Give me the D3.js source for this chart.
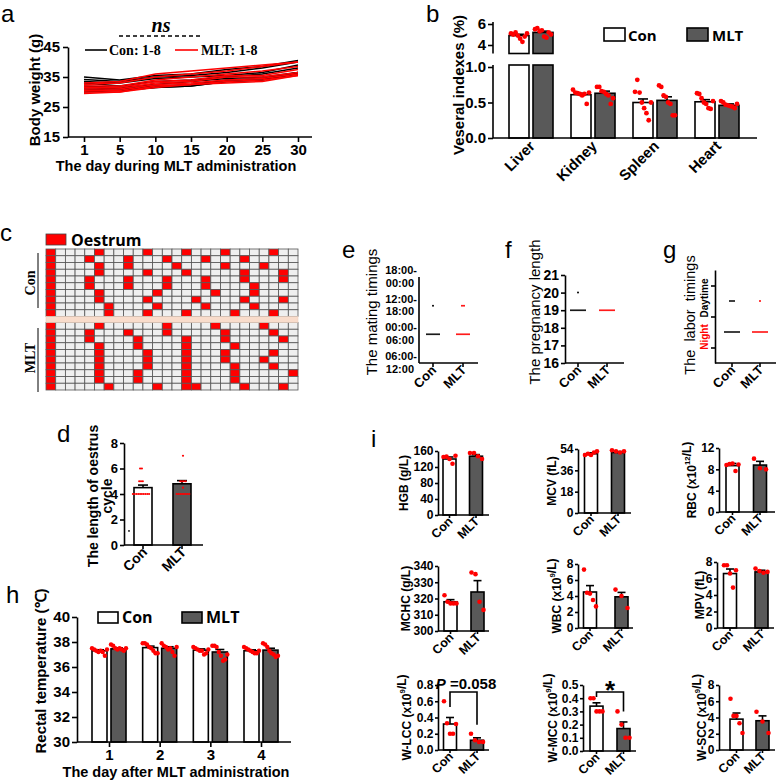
<!DOCTYPE html>
<html><head><meta charset="utf-8">
<script src="https://cdn.jsdelivr.net/npm/d3@7"></script>
<style>body{margin:0;background:#fff}svg{display:block}</style>
</head><body><script>
// ================= DATA =================
// Panel a: body weight
const days = ["1","5","10","15","20","25","30"];
const conWeights = [
  [35,34,35.5,36,37.5,38.5,40.5],
  [34.2,33.5,35,35.5,36.5,38,40],
  [33.5,33,34.5,35,35.5,36.5,39],
  [33,32,33.5,34,35,36,38],
  [32,31.5,32.5,33.5,34.5,35,36.5],
  [31.5,31,32,32.5,34,34.5,36.5],
  [31,30.5,31.5,32,33.5,34,36],
  [30,30.5,31.5,32,33.5,34,36.5]
];
const mltWeights = [
  [33,33.5,36,37,38,39,40],
  [32.5,33,35,36,37,38.5,40],
  [32,32,34,35,36,37,38.5],
  [31.5,31.5,33.5,34,35.5,35.5,37.5],
  [31,31,33,33.5,35,35,36.5],
  [30.5,30.5,32.5,33,34,34.5,36],
  [30,30,32,32.5,33.5,34,35.5],
  [29.5,30,31.5,32.5,33,33.5,35.5]
];
// Panel b: visceral indexes
const organs = ["Liver","Kidney","Spleen","Heart"];
const organCon = [4.9,0.61,0.50,0.51];
const organMlt = [5.2,0.63,0.53,0.46];
const organConErr = [0.12,0.02,0.05,0.03];
const organMltErr = [0.12,0.03,0.05,0.02];
const organConDots = [
  [5.1,5.0,5.2,4.9,4.6,4.3,4.8,5.1],
  [0.68,0.64,0.63,0.62,0.60,0.62,0.48,0.64],
  [0.65,0.82,0.64,0.50,0.42,0.35,0.25,0.50],
  [0.63,0.62,0.56,0.50,0.48,0.42,0.41,0.52]
];
const organMltDots = [
  [5.5,5.6,5.3,5.4,4.8,4.7,5.2,5.0],
  [0.72,0.72,0.66,0.65,0.62,0.60,0.48,0.56],
  [0.74,0.72,0.60,0.58,0.50,0.48,0.32,0.32],
  [0.52,0.50,0.47,0.46,0.45,0.44,0.42,0.48]
];
// Panel c: oestrus (column indices of oestrum days per mouse)
const nDays = 26;
const conOestrus = [
  [0,5,10,14,18,23],[0,4,8,12,16,20],[0,5,8,13,18,22],[0,5,10,14,20,24],
  [0,4,8,12,16,20,24],[0,4,8,12,16,21],[0,5,11,17,21],[0,5,10,15,20,24],
  [0,6,11,16,21],[0,6,10,14,19,23]
];
const mltOestrus = [
  [0,5,12,17,22],[0,4,8,12,18,23],[0,4,9,14,18,24],[0,5,9,14,19],
  [0,5,10,14,18,23],[0,5,10,14,18,22],[0,5,10,14,19,23],[0,5,9,14,19,25],
  [0,5,9,14,19],[0,6,11,14,15,20,24]
];
// Panel d: length of oestrus cycle
const groups = ["Con","MLT"];
const cycleMean = [4.5,4.8];
const cycleErr = [0.2,0.25];
const cycleConDots = [6,6,5,5,5,4,4,4,4,4,4,4,4,4,4];
const cycleMltDots = [7,5,5,5,5,4.5,4,4,4,4,4,4,4,4];
// Panel e: mating timings (0:06-12, 1:00-06, 2:12-18, 3:18-00)
const mateTicks = ["06:00-|12:00","00:00-|06:00","12:00-|18:00","18:00-|00:00"];
const mateCon = [2,1,1,1,1,1,1,1];
const mateMlt = [2,2,1,1,1,1,1,1,1];
// Panel f: pregnancy length
const pregTicks = [16,17,18,19,20,21];
const pregCon = [20,19,19,19,19,19,19,19,19];
const pregMlt = [19,19,19,19,19,19,19,19];
// Panel g: labor timings (0.5 Night, 1.5 Daytime)
const laborCon = [1.5,1.5,1.5,0.5,0.5,0.5,0.5,0.5,0.5,0.5,0.5];
const laborMlt = [1.5,0.5,0.5,0.5,0.5,0.5,0.5,0.5,0.5];
// Panel h: rectal temperature
const tempDays = ["1","2","3","4"];
const tempCon = [37.3,37.55,37.35,37.3];
const tempMlt = [37.45,37.5,37.2,37.35];
const tempConErr = [0.08,0.12,0.1,0.07];
const tempMltErr = [0.08,0.12,0.2,0.15];
const tempConDots = [
  [37.5,37.4,37.3,37.2,37.3,37.2,36.9,37.4],
  [37.9,37.9,37.8,37.6,37.5,37.3,37.1,37.1],
  [37.6,37.5,37.4,37.3,37.3,37.0,37.1,37.4],
  [37.6,37.5,37.4,37.3,37.2,37.1,37.1,37.3]
];
const tempMltDots = [
  [37.8,37.7,37.5,37.4,37.5,37.4,37.3,37.5],
  [37.9,37.7,37.6,37.4,37.5,37.2,36.9,37.6],
  [37.7,37.7,37.6,37.2,36.9,36.5,36.6,37.0],
  [37.9,37.8,37.6,37.3,37.1,37.0,36.8,36.9]
];
// Panel i: blood parameters
const bloodLabels = ["HGB (g/L)","MCV (fL)","RBC (x10^12/L)","MCHC (g/L)","WBC (x10^9/L)","MPV (fL)","W-LCC (x10^9/L)","W-MCC (x10^9/L)","W-SCC (x10^9/L)"];
const bloodDomains = [[0,160],[0,54],[0,12],[300,340],[0,8],[0,8],[0,0.8],[0,0.5],[0,8]];
const bloodTicks = [[0,40,80,120,160],[0,18,36,54],[0,4,8,12],[300,310,320,330,340],[0,2,4,6,8],[0,2,4,6,8],[0,0.2,0.4,0.6,0.8],[0,0.1,0.2,0.3,0.4,0.5],[0,2,4,6,8]];
const bloodTickFmt = ["d","d","d","d","d","d",".1f",".1f","d"];
const bloodCon = [140,50,8.7,318,4.5,6.6,0.32,0.34,3.8];
const bloodMlt = [147,51,8.8,324,3.9,6.8,0.12,0.17,3.6];
const bloodConErr = [5,0.8,0.4,1.3,0.8,0.55,0.08,0.025,0.75];
const bloodMltErr = [4,0.8,0.7,7,0.55,0.2,0.03,0.05,0.6];
const bloodConDots = [[145,146,140,128,148],[49,50,49,51,52],[8.8,9.0,9.1,7.7,8.9],[322,318,317,317,317],[7.3,4.4,4.3,3.5,2.7],[7.6,7.6,6.6,4.9,7.0],[0.6,0.33,0.2,0.2,0.32],[0.4,0.4,0.3,0.3,0.3],[6.3,4.2,4.2,3.3,2.1]];
const bloodMltDots = [[155,155,147,140],[53,52,51,52],[10,8.2,8.0],[336,335,318,313],[4.8,4.0,2.5],[7.2,6.9,6.7,6.8],[0.2,0.12,0.1,0.1],[0.3,0.2,0.1,0.1],[4.7,3.5,2.1]];

// ================= DRAWING =================
const svg = d3.select("body").append("svg").attr("width",778).attr("height",782);
const SANS = '"Liberation Sans", Arial, sans-serif';
const OPEN = '"Open Sans", "Liberation Sans", sans-serif';
const SERIF = '"Liberation Serif", "Times New Roman", serif';
const RED = "#ff0000", GRAY = "#595959";

function letter(t,x,y){ svg.append("text").attr("x",x).attr("y",y).attr("font-family",SANS).attr("font-size",24).text(t); }
function styleAxis(g,fs,weight="bold"){
  g.selectAll("path,line").attr("stroke","#000").attr("stroke-width",1.6);
  g.selectAll("text").attr("font-family",SANS).attr("font-weight",weight).attr("font-size",fs).attr("fill","#000");
}
function rich(sel,str,fs){
  const parts = str.split(/(\^\d+)/).filter(s=>s.length);
  parts.forEach(p=>{
    if(p[0]==="^"){ sel.append("tspan").attr("dy",-fs*0.4).attr("font-size",fs*0.65).text(p.slice(1)); sel.append("tspan").attr("dy",fs*0.4).text(""); }
    else sel.append("tspan").text(p);
  });
}
function vLabel(parent,str,x,y,fs,weight="bold",fill="#000"){
  const t = parent.append("text").attr("transform",`translate(${x},${y}) rotate(-90)`)
    .attr("text-anchor","middle").attr("dominant-baseline","central")
    .attr("font-family",SANS).attr("font-weight",weight).attr("font-size",fs).attr("fill",fill)
    .style("white-space","pre");
  rich(t,str,fs); return t;
}
function rotLabels(parent,scale,cats,y,fs,dx=4,dy=8){
  cats.forEach(c=>{
    parent.append("text").attr("transform",`translate(${scale(c)+dx},${y+dy}) rotate(-45)`)
      .attr("text-anchor","end").attr("font-family",SANS).attr("font-weight","bold").attr("font-size",fs).text(c);
  });
}
function xTicks(parent,scale,cats,y,len=4){
  cats.forEach(c=>parent.append("line").attr("x1",scale(c)).attr("x2",scale(c)).attr("y1",y).attr("y2",y+len).attr("stroke","#000").attr("stroke-width",1.6));
}
function hline(p,x1,x2,y,w=1.6){ p.append("line").attr("x1",x1).attr("x2",x2).attr("y1",y).attr("y2",y).attr("stroke","#000").attr("stroke-width",w); }
function bar(p,cx,w,yTop,yBot,fill){ p.append("rect").attr("x",cx-w/2).attr("y",yTop).attr("width",w).attr("height",yBot-yTop).attr("fill",fill).attr("stroke","#000").attr("stroke-width",1.6); }
function errUp(p,cx,yTop,yErr,cap){ p.append("line").attr("x1",cx).attr("x2",cx).attr("y1",yTop).attr("y2",yErr).attr("stroke","#000").attr("stroke-width",1.6); hline(p,cx-cap,cx+cap,yErr); }
function dots(p,cx,spread,vals,y,r){
  const n=vals.length;
  vals.forEach((v,i)=>{
    const x = n>1 ? cx-spread/2+i*spread/(n-1) : cx;
    p.append("circle").attr("cx",x).attr("cy",y(v)).attr("r",r).attr("fill",RED);
  });
}
function tinyDots(p,cx,vals,y,color,step=2,r=1){
  const counts = d3.rollup(vals,v=>v.length,d=>d);
  counts.forEach((n,v)=>{
    for(let i=0;i<n;i++) p.append("circle").attr("cx",cx-(n-1)*step/2+i*step).attr("cy",y(v)).attr("r",r).attr("fill",color);
  });
}

// ---------- Panel a ----------
letter("a",1,22);
{
  const g = svg.append("g");
  const x = d3.scalePoint().domain(days).range([84,298]);
  const y = d3.scaleLinear().domain([15,45]).range([137,47]);
  const line = d3.line().x((d,i)=>x(days[i])).y(d=>y(d));
  conWeights.forEach(s=>g.append("path").attr("d",line(s)).attr("fill","none").attr("stroke","#000").attr("stroke-width",1.5));
  mltWeights.forEach(s=>g.append("path").attr("d",line(s)).attr("fill","none").attr("stroke",RED).attr("stroke-width",1.5));
  g.append("g").attr("transform","translate(68,0)").call(d3.axisLeft(y).tickValues([15,25,35,45]).tickSize(5).tickSizeOuter(0)).call(a=>styleAxis(a,15));
  hline(g,68,312,137);
  g.append("g").attr("transform","translate(0,137)").call(d3.axisBottom(x).tickSize(5).tickPadding(2)).call(a=>a.select(".domain").remove()).call(a=>styleAxis(a,15));
  vLabel(g,"Body weight (g)",34,90,15);
  g.append("text").attr("x",176).attr("y",171).attr("text-anchor","middle").attr("font-family",SANS).attr("font-weight","bold").attr("font-size",14.5).text("The day during MLT administration");
  g.append("line").attr("x1",85).attr("x2",107).attr("y1",50).attr("y2",50).attr("stroke","#000").attr("stroke-width",1.6);
  g.append("text").attr("x",109).attr("y",55).attr("font-family",SERIF).attr("font-weight","bold").attr("font-size",14).text("Con: 1-8");
  g.append("line").attr("x1",175).attr("x2",198).attr("y1",50).attr("y2",50).attr("stroke",RED).attr("stroke-width",1.6);
  g.append("text").attr("x",201).attr("y",55).attr("font-family",SERIF).attr("font-weight","bold").attr("font-size",14).text("MLT: 1-8");
  g.append("text").attr("x",161).attr("y",32).attr("text-anchor","middle").attr("font-family",SERIF).attr("font-weight","bold").attr("font-style","italic").attr("font-size",20).text("ns");
  g.append("line").attr("x1",119).attr("x2",201).attr("y1",36).attr("y2",36).attr("stroke","#000").attr("stroke-width",1.4).attr("stroke-dasharray","4,3");
}

// ---------- Panel b ----------
letter("b",426,22);
{
  const g = svg.append("g");
  const lo = d3.scaleLinear().domain([0,1]).range([138,67]);
  const hi = d3.scaleLinear().domain([4,6]).range([45,24]);
  const yv = v => v>2 ? hi(v) : lo(v);
  const x = d3.scalePoint().domain(organs).range([531,717]);
  const bw = 20, off = 12;
  organs.forEach((o,i)=>{
    [[organCon[i],organConErr[i],"#fff",-off,organConDots[i]],[organMlt[i],organMltErr[i],GRAY,off,organMltDots[i]]].forEach(([v,e,f,dx,ds])=>{
      const cx = x(o)+dx;
      if(v>2){ bar(g,cx,bw,65,138,f); bar(g,cx,bw,yv(v),53.5,f); }
      else bar(g,cx,bw,yv(v),138,f);
      errUp(g,cx,yv(v),yv(v+e),5);
      dots(g,cx,16,ds,yv,2.4);
    });
  });
  g.append("line").attr("x1",493).attr("x2",493).attr("y1",138).attr("y2",65).attr("stroke","#000").attr("stroke-width",1.6);
  g.append("line").attr("x1",493).attr("x2",493).attr("y1",53.5).attr("y2",22).attr("stroke","#000").attr("stroke-width",1.6);
  g.append("g").attr("transform","translate(493,0)").call(d3.axisLeft(lo).tickValues([0,0.5,1]).tickFormat(d3.format(".1f")).tickSize(5).tickPadding(2)).call(a=>a.select(".domain").remove()).call(a=>styleAxis(a,15));
  g.append("g").attr("transform","translate(493,0)").call(d3.axisLeft(hi).tickValues([4,6]).tickFormat(d3.format("d")).tickSize(5).tickPadding(2)).call(a=>a.select(".domain").remove()).call(a=>styleAxis(a,15));
  hline(g,493,757,138);
  rotLabels(g,x,organs,138,15,5,9);
  vLabel(g,"Veseral indexes (%)",458,85,15);
  g.append("rect").attr("x",604).attr("y",28).attr("width",21).attr("height",13).attr("fill","#fff").attr("stroke","#000").attr("stroke-width",1.6);
  g.append("text").attr("x",628).attr("y",41).attr("font-family",OPEN).attr("font-weight","bold").attr("font-size",15).text("Con");
  g.append("rect").attr("x",687).attr("y",28).attr("width",21).attr("height",13).attr("fill",GRAY).attr("stroke","#000").attr("stroke-width",1.6);
  g.append("text").attr("x",712).attr("y",41).attr("font-family",OPEN).attr("font-weight","bold").attr("font-size",15).text("MLT");
}

// ---------- Panel c ----------
letter("c",0,241);
{
  const g = svg.append("g");
  const x = d3.scaleBand().domain(d3.range(nDays)).range([46,298]);
  const yc = d3.scaleBand().domain(d3.range(conOestrus.length)).range([249,316.5]);
  const ym = d3.scaleBand().domain(d3.range(mltOestrus.length)).range([322.5,390]);
  const drawGrid = (rows,y)=>rows.forEach((r,ri)=>d3.range(nDays).forEach(ci=>{
    g.append("rect").attr("x",x(ci)).attr("y",y(ri)).attr("width",x.bandwidth()).attr("height",y.bandwidth())
      .attr("fill",r.includes(ci)?RED:"#efefef").attr("stroke","#555").attr("stroke-width",0.8);
  }));
  drawGrid(conOestrus,yc); drawGrid(mltOestrus,ym);
  g.append("rect").attr("x",46).attr("y",316.5).attr("width",252).attr("height",6).attr("fill","#f9dccb").attr("stroke","#ead0c0").attr("stroke-width",0.6);
  g.append("rect").attr("x",46).attr("y",234).attr("width",20).attr("height",11).attr("fill",RED).attr("stroke","#444").attr("stroke-width",0.8);
  g.append("text").attr("x",71).attr("y",246).attr("font-family",OPEN).attr("font-weight","bold").attr("font-size",16).text("Oestrum");
  g.append("line").attr("x1",38).attr("x2",38).attr("y1",253).attr("y2",308).attr("stroke","#000").attr("stroke-width",1);
  g.append("line").attr("x1",38).attr("x2",38).attr("y1",328).attr("y2",392).attr("stroke","#000").attr("stroke-width",1);
  const t1 = vLabel(g,"Con",30,283,14); t1.attr("font-family",SERIF);
  const t2 = vLabel(g,"MLT",30,358,14); t2.attr("font-family",SERIF);
}

// ---------- Panel d ----------
letter("d",57,442);
{
  const g = svg.append("g");
  const y = d3.scaleLinear().domain([0,8]).range([545,443]);
  const x = d3.scalePoint().domain(groups).range([143,182]);
  [[cycleMean[0],cycleErr[0],"#fff",groups[0]],[cycleMean[1],cycleErr[1],GRAY,groups[1]]].forEach(([v,e,f,c])=>{
    bar(g,x(c),18,y(v),545,f); errUp(g,x(c),y(v),y(v+e),5);
  });
  tinyDots(g,x("Con")-2,cycleConDots,y,RED,1.8,1.1);
  tinyDots(g,x("MLT")+1,cycleMltDots,y,RED,1.8,1.1);
  g.append("circle").attr("cx",129).attr("cy",y(1.1)).attr("r",0.9).attr("fill","#000");
  g.append("g").attr("transform","translate(124,0)").call(d3.axisLeft(y).tickValues([0,2,4,6,8]).tickSize(4).tickPadding(2).tickSizeOuter(0)).call(a=>styleAxis(a,13));
  hline(g,124,203,545); xTicks(g,x,groups,545);
  rotLabels(g,x,groups,545,14,5,8);
  vLabel(g,"The length of oestrus",93,496,14,"bold");
  vLabel(g,"cycle",107,496,14,"bold");
}

// ---------- Panel e ----------
letter("e",342,258);
{
  const g = svg.append("g");
  const y = d3.scaleLinear().domain([0,3]).range([363,277]);
  const x = d3.scalePoint().domain(groups).range([433,463]);
  tinyDots(g,x("Con"),mateCon,y,"#000");
  tinyDots(g,x("MLT"),mateMlt,y,RED);
  g.append("line").attr("x1",419).attr("x2",419).attr("y1",277).attr("y2",363).attr("stroke","#000").attr("stroke-width",1.6);
  mateTicks.forEach((t,i)=>{
    const [a,b] = t.split("|");
    const tx = g.append("text").attr("x",417).attr("y",y(i)).attr("text-anchor","end").attr("font-family",SANS).attr("font-weight","bold").attr("font-size",11);
    tx.append("tspan").attr("x",417).attr("dy",-3).text(a);
    tx.append("tspan").attr("x",414).attr("dy",12.5).text(b);
  });
  hline(g,419,478,363); xTicks(g,x,groups,363);
  rotLabels(g,x,groups,363,13,4,8);
  vLabel(g,"The mating timings",371,312,15,"normal");
}

// ---------- Panel f ----------
letter("f",505,258);
{
  const g = svg.append("g");
  const y = d3.scaleLinear().domain([16,21]).range([363,275]);
  const x = d3.scalePoint().domain(groups).range([578,607]);
  tinyDots(g,x("Con"),pregCon,y,"#000");
  tinyDots(g,x("MLT"),pregMlt,y,RED);
  g.append("g").attr("transform","translate(565,0)").call(d3.axisLeft(y).tickValues(pregTicks).tickFormat(d3.format("d")).tickSize(4).tickPadding(2).tickSizeOuter(0)).call(a=>styleAxis(a,14));
  hline(g,565,624,363); xTicks(g,x,groups,363);
  rotLabels(g,x,groups,363,13,4,8);
  vLabel(g,"The pregnancy length",534,312,15,"normal");
}

// ---------- Panel g ----------
letter("g",663,258);
{
  const g = svg.append("g");
  const y = d3.scaleLinear().domain([-0.5,2.5]).range([363,270]);
  const x = d3.scalePoint().domain(groups).range([732,760]);
  tinyDots(g,x("Con"),laborCon,y,"#000");
  tinyDots(g,x("MLT"),laborMlt,y,RED);
  g.append("g").attr("transform","translate(715,0)").call(d3.axisLeft(y).tickValues([0,1,2]).tickFormat("").tickSize(4).tickSizeOuter(0)).call(a=>styleAxis(a,12));
  hline(g,715,776,363); xTicks(g,x,groups,363);
  rotLabels(g,x,groups,363,13,4,8);
  vLabel(g,"The  labor  timings",690,315,14.5,"normal");
  vLabel(g,"Night",704,337,10,"bold",RED);
  vLabel(g,"Daytime",704,298,10,"bold");
}

// ---------- Panel h ----------
letter("h",6,603);
{
  const g = svg.append("g");
  const y = d3.scaleLinear().domain([30,40]).range([742,617]);
  const x = d3.scalePoint().domain(tempDays).range([109,261]);
  tempDays.forEach((d,i)=>{
    [[tempCon[i],tempConErr[i],"#fff",-9.5,tempConDots[i]],[tempMlt[i],tempMltErr[i],GRAY,9.5,tempMltDots[i]]].forEach(([v,e,f,dx,ds])=>{
      const cx = x(d)+dx;
      bar(g,cx,15,y(v),742,f); errUp(g,cx,y(v),y(v+e),4.5);
      dots(g,cx,15,ds,y,2.2);
    });
  });
  g.append("g").attr("transform","translate(77,0)").call(d3.axisLeft(y).tickValues([30,32,34,36,38,40]).tickSize(5).tickPadding(2).tickSizeOuter(0)).call(a=>styleAxis(a,15));
  hline(g,77,291,742);
  g.append("g").attr("transform","translate(0,742)").call(d3.axisBottom(x).tickSize(5).tickPadding(2)).call(a=>a.select(".domain").remove()).call(a=>styleAxis(a,15));
  vLabel(g,"Rectal temperature (\u2103)",40,671,15);
  g.append("text").attr("x",176).attr("y",777).attr("text-anchor","middle").attr("font-family",SANS).attr("font-weight","bold").attr("font-size",14.5).text("The day after MLT administration");
  g.append("rect").attr("x",98).attr("y",612).attr("width",20).attr("height",11).attr("fill","#fff").attr("stroke","#000").attr("stroke-width",1.6);
  g.append("text").attr("x",122).attr("y",623).attr("font-family",OPEN).attr("font-weight","bold").attr("font-size",16).text("Con");
  g.append("rect").attr("x",182).attr("y",612).attr("width",20).attr("height",11).attr("fill",GRAY).attr("stroke","#000").attr("stroke-width",1.6);
  g.append("text").attr("x",206).attr("y",623).attr("font-family",OPEN).attr("font-weight","bold").attr("font-size",16).text("MLT");
}

// ---------- Panel i ----------
letter("i",371,447);
{
  // layout: [axisX, yBottom, yTop, conX, mltX, xEnd, labelX]
  const layout = [
    [438,515,451,449.5,476,489,404],[578,513,449,591,618,631,552],[719,512,448,732.5,760,775,692],
    [438,631,566,450.5,477.5,489,406],[578,628,564,590,621.5,633,557],[717,628,562,730,761.5,774,700],
    [438,750,685,450,477,489,407],[583,751,685,596.5,623.5,636,553],[719,750,685,736.5,762.5,775,702]
  ];
  bloodLabels.forEach((lab,k)=>{
    const [ax,yb,yt,cxC,cxM,xe,lx] = layout[k];
    const g = svg.append("g");
    const y = d3.scaleLinear().domain(bloodDomains[k]).range([yb,yt]);
    const x = d3.scalePoint().domain(groups).range([cxC,cxM]);
    bar(g,cxC,13,y(bloodCon[k]),yb,"#fff"); errUp(g,cxC,y(bloodCon[k]),y(bloodCon[k]+bloodConErr[k]),4);
    bar(g,cxM,13,y(bloodMlt[k]),yb,GRAY); errUp(g,cxM,y(bloodMlt[k]),y(bloodMlt[k]+bloodMltErr[k]),4);
    dots(g,cxC,12,bloodConDots[k],y,2.3);
    dots(g,cxM,12,bloodMltDots[k],y,2.3);
    g.append("g").attr("transform",`translate(${ax},0)`).call(d3.axisLeft(y).tickValues(bloodTicks[k]).tickFormat(d3.format(bloodTickFmt[k])).tickSize(3).tickPadding(1.5).tickSizeOuter(0)).call(a=>styleAxis(a,12));
    hline(g,ax,xe,yb); xTicks(g,x,groups,yb,3);
    rotLabels(g,x,groups,yb,12.5,4,7);
    vLabel(g,lab,lx,(yb+yt)/2,12);
    if(k===6){
      const yl=692;
      g.append("path").attr("d",`M${cxC},${y(0.53)}V${yl}H${cxM}V${y(0.31)}`).attr("fill","none").attr("stroke","#000").attr("stroke-width",1.6);
      const t=g.append("text").attr("x",466).attr("y",689).attr("text-anchor","middle").attr("font-family",SANS).attr("font-weight","bold").attr("font-size",15);
      t.append("tspan").attr("font-style","italic").text("P");
      t.append("tspan").text(" =0.058");
    }
    if(k===7){
      const yl=692;
      g.append("path").attr("d",`M${cxC},${y(0.41)}V${yl}H${cxM}V${y(0.30)}`).attr("fill","none").attr("stroke","#000").attr("stroke-width",1.6);
      g.append("text").attr("x",(cxC+cxM)/2).attr("y",699).attr("text-anchor","middle").attr("font-family",SANS).attr("font-weight","bold").attr("font-size",26).text("*");
    }
  });
}
</script></body></html>
